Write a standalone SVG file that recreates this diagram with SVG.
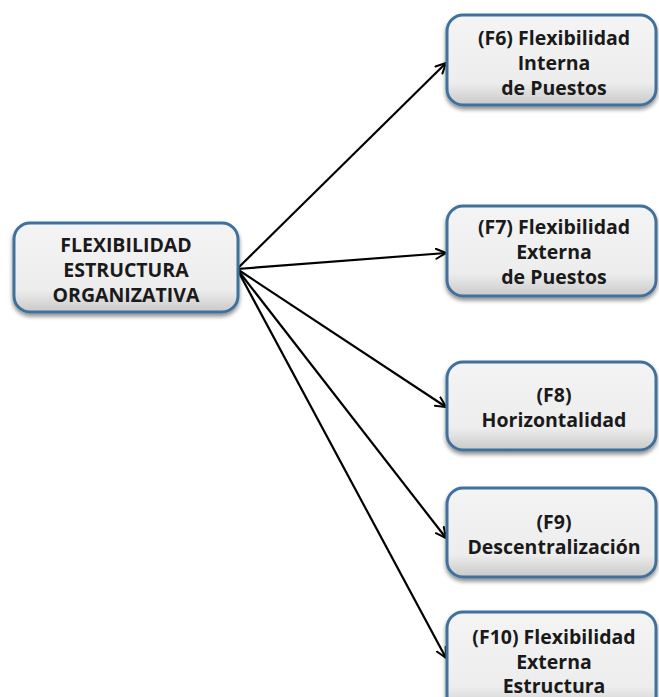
<svg xmlns="http://www.w3.org/2000/svg" width="659" height="697" viewBox="0 0 659 697">
  <defs>
    <linearGradient id="boxFill" x1="0" y1="0" x2="0" y2="1">
      <stop offset="0" stop-color="#f4f4f4"/>
      <stop offset="0.75" stop-color="#ededed"/>
      <stop offset="1" stop-color="#c9c9c9"/>
    </linearGradient>
    <filter id="shadow" x="-10%" y="-10%" width="120%" height="130%">
      <feGaussianBlur in="SourceAlpha" stdDeviation="2"/>
      <feOffset dx="0" dy="3" result="b"/>
      <feComponentTransfer><feFuncA type="linear" slope="0.45"/></feComponentTransfer>
      <feMerge><feMergeNode/><feMergeNode in="SourceGraphic"/></feMerge>
    </filter>
    <marker id="arrow" viewBox="0 0 12 12" refX="11" refY="6" markerWidth="12" markerHeight="12" markerUnits="userSpaceOnUse" orient="auto">
      <path d="M1,1 L11,6 L1,11" fill="none" stroke="#000" stroke-width="2" stroke-linecap="round" stroke-linejoin="round"/>
    </marker>
  </defs>
  <style>
    .box { fill: url(#boxFill); stroke: #41709c; stroke-width: 3; filter: url(#shadow); }
    .label { font-family: "Open Sans", "Noto Sans", "Liberation Sans", sans-serif; font-weight: bold; font-size: 19.5px; fill: #1a1a1a; text-anchor: middle; }
    .edge { stroke: #000; stroke-width: 2.2; fill: none; marker-end: url(#arrow); }
  </style>
  <rect width="659" height="697" fill="#ffffff"/>

  <g id="connectors">
    <line class="edge" x1="237" y1="269" x2="446" y2="63"/>
    <line class="edge" x1="237" y1="269" x2="446" y2="253"/>
    <line class="edge" x1="237" y1="269" x2="446" y2="407"/>
    <line class="edge" x1="237" y1="269" x2="446" y2="538"/>
    <line class="edge" x1="237" y1="269" x2="446" y2="658"/>
  </g>

  <g id="root">
    <rect class="box" x="14" y="223" width="224" height="89" rx="16"/>
    <text class="label" x="126" y="252">FLEXIBILIDAD</text>
    <text class="label" x="126" y="277">ESTRUCTURA</text>
    <text class="label" x="126" y="302">ORGANIZATIVA</text>
  </g>

  <g id="f6">
    <rect class="box" x="447" y="15" width="209" height="90" rx="16"/>
    <text class="label" x="554" y="45">(F6) Flexibilidad</text>
    <text class="label" x="554" y="70">Interna</text>
    <text class="label" x="554" y="95">de Puestos</text>
  </g>

  <g id="f7">
    <rect class="box" x="447" y="206" width="209" height="90" rx="16"/>
    <text class="label" x="554" y="234">(F7) Flexibilidad</text>
    <text class="label" x="554" y="259">Externa</text>
    <text class="label" x="554" y="284">de Puestos</text>
  </g>

  <g id="f8">
    <rect class="box" x="447" y="362" width="209" height="88" rx="16"/>
    <text class="label" x="554" y="402">(F8)</text>
    <text class="label" x="554" y="427">Horizontalidad</text>
  </g>

  <g id="f9">
    <rect class="box" x="447" y="488" width="209" height="89" rx="16"/>
    <text class="label" x="554" y="529">(F9)</text>
    <text class="label" x="554" y="554">Descentralización</text>
  </g>

  <g id="f10">
    <rect class="box" x="447" y="612" width="209" height="100" rx="16"/>
    <text class="label" x="554" y="644">(F10) Flexibilidad</text>
    <text class="label" x="554" y="669">Externa</text>
    <text class="label" x="554" y="693">Estructura</text>
  </g>
</svg>
